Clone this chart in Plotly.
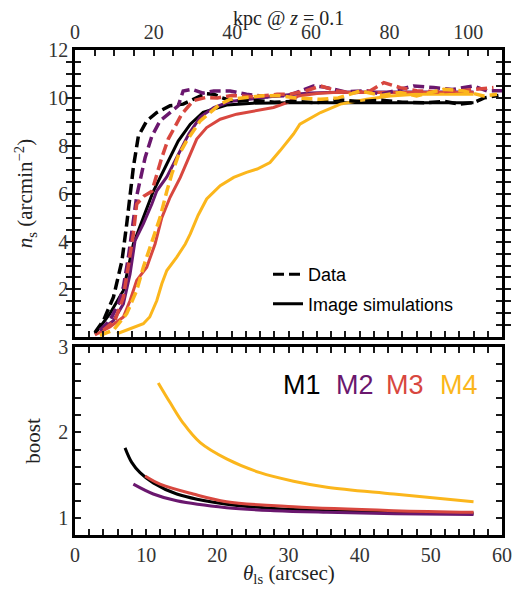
import plotly.graph_objects as go

# ---------------- data: top panel (n_s vs theta) ----------------
m1_data_x = [2.8, 4.0, 5.4, 6.6, 7.27, 7.74, 8.2, 8.9, 10.08, 11.5, 13.36, 15.2, 16.8, 18.3, 19.5, 20.6, 22.5, 25, 28, 31, 34, 37, 40, 43, 46, 49, 52, 54, 56, 57.5, 59.5]
m1_data_y = [0.2, 0.7, 1.68, 3.2, 4.74, 5.9, 7.1, 8.4, 9.04, 9.39, 9.67, 9.74, 9.95, 10.18, 10.15, 10.01, 9.85, 9.9, 9.82, 9.86, 9.8, 9.92, 9.85, 9.9, 9.82, 9.8, 9.85, 9.74, 9.8, 10.0, 10.1]
m1_sim_x = [2.8, 4.9, 6.8, 8.2, 9.6, 11.0, 12.9, 14.5, 16.2, 18, 21.3, 25, 30, 40, 50, 56]
m1_sim_y = [0.15, 0.99, 1.96, 3.9, 5.0, 6.1, 7.24, 8.2, 8.9, 9.4, 9.7, 9.78, 9.8, 9.8, 9.8, 9.8]

m2_data_x = [3.5, 4.9, 6.1, 6.8, 7.5, 8.2, 8.67, 9.14, 9.85, 10.8, 11.95, 13.1, 14.5, 15.2, 16.4, 18, 19.5, 21.8, 24.1, 27, 30, 33.5, 35, 38, 41, 43, 45, 47.6, 50.4, 53, 56, 57.9, 60]
m2_data_y = [0.3, 0.7, 1.4, 2.1, 3.35, 4.74, 5.9, 6.54, 7.5, 8.4, 9.04, 9.32, 9.67, 10.29, 10.36, 10.2, 10.29, 10.29, 10.15, 10.05, 10.1, 10.5, 10.45, 10.25, 10.3, 10.15, 10.3, 10.5, 10.43, 10.35, 10.5, 10.29, 10.3]
m2_sim_x = [3.5, 5.4, 6.8, 7.74, 8.44, 9.6, 10.8, 11.5, 12.9, 14.3, 16.0, 17.6, 19.5, 21.8, 25.1, 28.8, 33, 38, 45, 50, 56]
m2_sim_y = [0.3, 0.7, 1.4, 2.65, 4.04, 4.74, 5.57, 6.12, 6.7, 7.51, 8.5, 9.2, 9.6, 9.85, 9.98, 10.1, 10.2, 10.25, 10.25, 10.25, 10.25]

m3_data_x = [4.0, 5.6, 6.8, 7.5, 8.2, 8.67, 9.7, 10.8, 11.5, 12.2, 13.1, 14.1, 15.0, 16.6, 18.3, 20, 22, 25, 28.4, 30.2, 32.5, 34.5, 36.8, 39, 41.5, 43.4, 45.7, 48, 51, 54, 56.5, 58.8]
m3_data_y = [0.3, 0.7, 1.68, 2.93, 4.32, 5.57, 5.9, 6.1, 6.82, 7.51, 8.28, 8.83, 9.32, 9.88, 10.01, 10.0, 10.1, 10.05, 10.15, 10.15, 10.3, 10.5, 10.29, 10.2, 10.3, 10.64, 10.43, 10.3, 10.25, 10.3, 10.35, 10.43]
m3_sim_x = [2.8, 4.9, 6.8, 7.74, 8.67, 10.08, 11.25, 12.2, 13.36, 14.8, 16.2, 17.1, 18.5, 20.4, 22.7, 25.6, 27.9, 29.8, 31.4, 34, 36.3, 40, 45, 50, 56]
m3_sim_y = [0.1, 0.43, 0.85, 1.54, 2.38, 2.93, 3.9, 5.0, 5.85, 6.68, 7.65, 8.28, 8.76, 9.11, 9.32, 9.46, 9.6, 9.8, 10.08, 10.18, 10.22, 10.22, 10.22, 10.22, 10.22]

m4_data_x = [3.5, 5.4, 7.27, 8.67, 9.6, 10.8, 11.95, 12.9, 13.6, 14.5, 15.7, 17.6, 19.0, 20.4, 21.8, 24.1, 26, 28.5, 31, 34.5, 37, 40.1, 43, 45.7, 48, 51.8, 54.6, 57.4, 59.3]
m4_data_y = [0.08, 0.3, 0.99, 1.96, 2.93, 4.04, 5.0, 6.1, 6.82, 7.58, 8.21, 9.04, 9.39, 9.74, 9.94, 10.01, 10.08, 10.1, 10.0, 9.94, 10.0, 10.29, 10.1, 10.22, 10.08, 10.36, 10.29, 10.08, 10.15]
m4_sim_x = [5.9, 8.2, 9.6, 10.5, 11.5, 12.2, 12.9, 14.3, 15.5, 16.2, 17.3, 18.5, 20.4, 22.3, 24.1, 25.6, 27.4, 28.8, 30.7, 31.6, 34.5, 37.3, 41, 44.3, 48, 52, 56]
m4_sim_y = [0.15, 0.43, 0.57, 0.85, 1.54, 2.24, 2.79, 3.35, 3.9, 4.32, 5.1, 5.78, 6.33, 6.68, 6.89, 7.03, 7.3, 7.79, 8.49, 8.9, 9.39, 9.74, 9.94, 10.08, 10.15, 10.15, 10.15]

# ---------------- data: bottom panel (boost) ----------------
m1_boost_x = [7.03, 7.97, 9.14, 11.0, 14.3, 21.3, 28, 35.4, 45, 56]
m1_boost_y = [1.82, 1.65, 1.53, 1.41, 1.28, 1.16, 1.11, 1.085, 1.065, 1.055]
m2_boost_x = [8.2, 11, 14.3, 21.3, 28, 35.4, 45, 56]
m2_boost_y = [1.395, 1.28, 1.20, 1.12, 1.085, 1.066, 1.05, 1.04]
m3_boost_x = [9.85, 11.95, 16.6, 21.3, 30.7, 44.8, 56]
m3_boost_y = [1.49, 1.395, 1.28, 1.19, 1.13, 1.085, 1.066]
m4_boost_x = [11.7, 13.36, 15.2, 17.6, 21.3, 26, 30.7, 35.4, 44.8, 56]
m4_boost_y = [2.58, 2.35, 2.11, 1.88, 1.69, 1.53, 1.43, 1.36, 1.28, 1.19]

model_names = ["M1", "M2", "M3", "M4"]
colors = ["#000000", "#6a176e", "#d8473f", "#fbb61c"]
legend_labels = ["Data", "Image simulations"]

# axis extents
theta_range = [0, 60]
kpc_range = [0, 108.6]
ns_range = [0.01, 12]
boost_range = [0.8, 3]

# tick labels (major) and minor tick steps
theta_labels = [0, 10, 20, 30, 40, 50, 60]
theta_minor_step = 2
kpc_labels = [0, 20, 40, 60, 80, 100]
kpc_minor_step = 5
ns_labels = [2, 4, 6, 8, 10, 12]
ns_minor_step = 0.5
boost_labels = [1, 2, 3]
boost_minor_step = 0.2


def tick_arrays(lo, hi, step, labels):
    n = int(round((hi - lo) / step))
    vals = [round(lo + k * step, 4) for k in range(n + 1)]
    lab = set(labels)
    text = [(str(int(v)) if any(abs(v - l) < 1e-6 for l in lab) else "") for v in vals]
    return vals, text


DASH = "11px,5px"
SERIF = "Liberation Serif"
SANS = "Liberation Sans"
TICKC = "#1a1a1a"

fig = go.Figure()

data_sets = [(m1_data_x, m1_data_y), (m2_data_x, m2_data_y), (m3_data_x, m3_data_y), (m4_data_x, m4_data_y)]
sim_sets = [(m1_sim_x, m1_sim_y), (m2_sim_x, m2_sim_y), (m3_sim_x, m3_sim_y), (m4_sim_x, m4_sim_y)]
boost_sets = [(m1_boost_x, m1_boost_y), (m2_boost_x, m2_boost_y), (m3_boost_x, m3_boost_y), (m4_boost_x, m4_boost_y)]

for i in range(4):
    sx, sy = sim_sets[i]
    fig.add_trace(go.Scatter(x=sx, y=sy, mode="lines", xaxis="x2", yaxis="y2",
                             line=dict(color=colors[i], width=3), showlegend=False))
for i in range(4):
    dx, dy = data_sets[i]
    fig.add_trace(go.Scatter(x=dx, y=dy, mode="lines", xaxis="x2", yaxis="y2",
                             line=dict(color=colors[i], width=3.5, dash=DASH), showlegend=False))
for i in range(4):
    bx, by = boost_sets[i]
    fig.add_trace(go.Scatter(x=bx, y=by, mode="lines", xaxis="x", yaxis="y",
                             line=dict(color=colors[i], width=3, shape="spline"), showlegend=False))

# legend proxies
fig.add_trace(go.Scatter(x=[None], y=[None], mode="lines", xaxis="x2", yaxis="y2", legendgroup="a",
                         line=dict(color="black", width=3, dash=DASH), name=legend_labels[0]))
fig.add_trace(go.Scatter(x=[None], y=[None], mode="lines", xaxis="x2", yaxis="y2", legendgroup="b",
                         line=dict(color="black", width=3), name=legend_labels[1]))

# empty trace so that the kpc axis gets drawn
fig.add_trace(go.Scatter(x=[None], y=[None], xaxis="x3", yaxis="y2", showlegend=False, hoverinfo="skip"))

tickfont = dict(family=SERIF, size=20, color="#333333")
common = dict(showline=True, linecolor="black", linewidth=2.5, ticks="inside",
              ticklen=6, tickwidth=2, tickcolor=TICKC, showgrid=False, zeroline=False,
              tickfont=tickfont, automargin=False, tickmode="array")

th_vals, th_text = tick_arrays(theta_range[0], theta_range[1], theta_minor_step, theta_labels)
kpc_vals, kpc_text = tick_arrays(0, 105, kpc_minor_step, kpc_labels)
ns_vals, ns_text = tick_arrays(0.5, 12, ns_minor_step, ns_labels)
b_vals, b_text = tick_arrays(boost_range[0], boost_range[1], boost_minor_step, boost_labels)

# page body has an 8px default margin, so the figure is made 8px smaller
fig.update_layout(
    width=523, height=585,
    margin=dict(l=67, r=29, t=42, b=58, autoexpand=False),
    plot_bgcolor="white", paper_bgcolor="white",
    xaxis=dict(domain=[0, 1], anchor="y", range=theta_range, tickvals=th_vals, ticktext=th_text,
               mirror="allticks", **common),
    yaxis=dict(domain=[0, 0.3876], anchor="x", range=boost_range, tickvals=b_vals, ticktext=b_text,
               mirror="allticks",
               title=dict(text="boost", font=dict(family=SERIF, size=21, color="#222"), standoff=12),
               **common),
    xaxis2=dict(domain=[0, 1], anchor="y2", range=theta_range, tickvals=th_vals, ticktext=th_text,
                showticklabels=False, mirror=False, **common),
    yaxis2=dict(domain=[0.408, 1], anchor="x2", range=ns_range, tickvals=ns_vals, ticktext=ns_text,
                mirror="allticks",
                title=dict(text="<i>n</i><sub>s</sub> (arcmin<sup>−2</sup>)", font=dict(family=SERIF, size=21, color="#222"),
                           standoff=10),
                **common),
    xaxis3=dict(overlaying="x2", anchor="y2", side="top", range=kpc_range, tickvals=kpc_vals, ticktext=kpc_text,
                **common),
    legend=dict(x=0.452, y=0.575, xanchor="left", yanchor="top", bgcolor="rgba(0,0,0,0)",
                font=dict(family=SANS, size=18, color="black"), tracegroupgap=3),
)

# top axis title
fig.add_annotation(x=0.5, y=1.0, xref="paper", yref="paper", xanchor="center", yanchor="middle", yshift=32,
                   text="kpc @ <i>z</i> = 0.1", showarrow=False,
                   font=dict(family=SERIF, size=20, color="#222"))

# x-axis title of the bottom panel
fig.add_annotation(x=0.5, y=-0.08, xref="paper", yref="paper", xanchor="center", yanchor="middle",
                   text="<i>θ</i><sub>ls</sub> (arcsec)", showarrow=False,
                   font=dict(family=SERIF, size=21, color="#222"))

# model labels in the boost panel
label_x = [31.9, 39.4, 46.4, 53.9]
for name, c, lx in zip(model_names, colors, label_x):
    fig.add_annotation(x=lx, y=2.56, xref="x", yref="y", text=name, showarrow=False,
                       font=dict(family=SANS, size=27, color=c), xanchor="center", yanchor="middle")

fig.write_html("out.html")
